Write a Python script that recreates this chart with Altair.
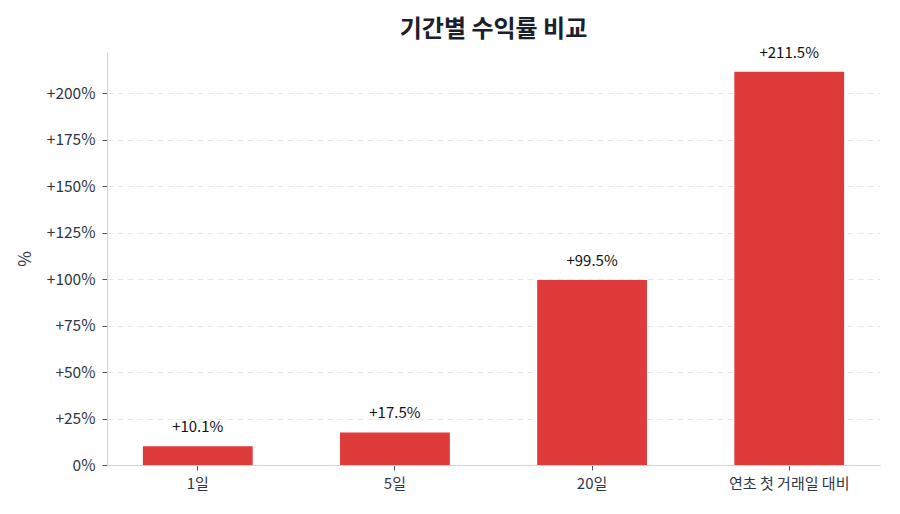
import altair as alt
import pandas as pd

periods = ['1일', '5일', '20일', '연초 첫 거래일 대비']
returns = [10.1, 17.5, 99.5, 211.5]

df = pd.DataFrame({'period': periods, 'ret': returns})
df['label'] = df['ret'].map(lambda v: f'+{v:.1f}%')

FONT = 'Noto Sans CJK KR'

base = alt.Chart(df).encode(
    x=alt.X('period:N', sort=periods, title=None,
            scale=alt.Scale(paddingInner=0.443, paddingOuter=0.182),
            axis=alt.Axis(labelAngle=0, labelFontSize=15, labelColor='#2d3748',
                          labelPadding=6, tickSize=5, tickColor='#4a5568',
                          domainColor='#cbd2d9', grid=False)),
    y=alt.Y('ret:Q', title='%', scale=alt.Scale(domain=[0, 222.1], nice=False),
            axis=alt.Axis(values=[0, 25, 50, 75, 100, 125, 150, 175, 200],
                          labelExpr="datum.value > 0 ? '+' + datum.value + '%' : datum.value + '%'",
                          labelFontSize=15.5, labelColor='#2d3748', tickSize=5,
                          labelPadding=7,
                          tickColor='#4a5568', domainColor='#cbd2d9',
                          gridColor='#e6e6e6', gridDash=[6, 4],
                          titleFontSize=17, titleFontWeight='normal',
                          titleColor='#2d3748', titlePadding=12)),
)

bars = base.mark_bar(color='#e03b3b')
labels = base.mark_text(fontSize=15, color='#111111', baseline='alphabetic', dy=-14,
                        font=FONT).encode(text='label:N')

chart = (bars + labels).properties(
    width=773,
    height=413,
    padding={'left': 99, 'top': 44, 'right': 12, 'bottom': 41},
    autosize=alt.AutoSizeParams(type='none'),
    title=alt.TitleParams('기간별 수익률 비교', fontSize=24, fontWeight='bold',
                          color='#1a202c', font=FONT, offset=4, anchor='middle'),
).configure(font=FONT).configure_view(stroke=None)

chart.save("out.html", embed_options={"renderer": "svg", "actions": False})
